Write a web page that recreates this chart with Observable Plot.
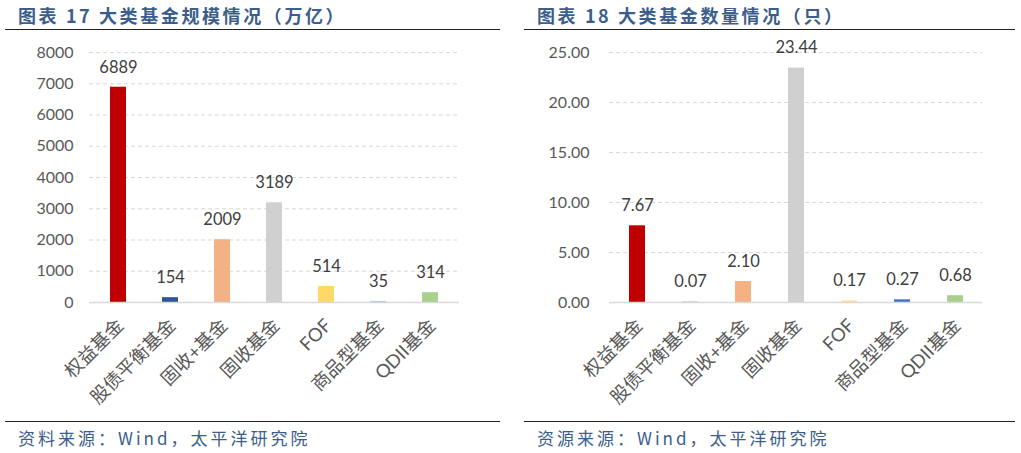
<!DOCTYPE html>
<html><head><meta charset="utf-8">
<script src="https://cdn.jsdelivr.net/npm/d3@7"></script>
<script src="https://cdn.jsdelivr.net/npm/@observablehq/plot@0.6"></script>
<style>
body{margin:0;background:#fff;width:1021px;height:453px;position:relative;overflow:hidden;font-family:"Lato","Noto Sans CJK SC",sans-serif;}
.title{position:absolute;top:2px;font-family:"Noto Sans CJK SC";font-weight:700;font-size:18px;color:#3B5E8C;letter-spacing:2.6px;white-space:pre;}
.src{position:absolute;top:425px;font-family:"Noto Sans CJK SC";font-size:17px;color:#3B5E8C;letter-spacing:3px;white-space:nowrap;}
.hl{position:absolute;height:0;border-top:1.5px solid #222;}
.chart{position:absolute;top:35px;}
</style></head><body>
<div class="title" style="left:18px">图表 17 大类基金规模情况（万亿）</div>
<div class="title" style="left:537px">图表 18 大类基金数量情况（只）</div>
<div class="hl" style="left:5px;width:495px;top:29px"></div>
<div class="hl" style="left:524px;width:491px;top:29px"></div>
<div class="hl" style="left:5px;width:495px;top:421px"></div>
<div class="hl" style="left:524px;width:491px;top:421px"></div>
<div class="src" style="left:18px">资料来源：Wind，太平洋研究院</div>
<div class="src" style="left:537px">资源来源：Wind，太平洋研究院</div>
<div id="c1" class="chart" style="left:0px"></div>
<div id="c2" class="chart" style="left:510px"></div>
<script>
const categories = ["权益基金","股债平衡基金","固收+基金","固收基金","FOF","商品型基金","QDII基金"];
const scaleValues = [6889,154,2009,3189,514,35,314];
const countValues = [7.67,0.07,2.10,23.44,0.17,0.27,0.68];
const scaleColors = ["#C00000","#2F5597","#F4B183","#D0D0D0","#FFD966","#B4C7E7","#A9D18E"];
const countColors = ["#C00000","#B4C7E7","#F4B183","#D0D0D0","#FFE699","#4472C4","#A9D18E"];
const scaleTicks = [0,1000,2000,3000,4000,5000,6000,7000,8000];
const countTicks = [0,5,10,15,20,25];

function makeChart(values, colors, ticks, fmt, opts){
  const data = categories.map((c,i)=>({cat:c, v:values[i], color:colors[i]}));
  return Plot.plot({
    width: opts.width, height: 380,
    marginTop: 17, marginBottom: 113, marginLeft: opts.ml, marginRight: opts.mr,
    style: {fontFamily:'"Lato","Noto Sans CJK SC",sans-serif', background:"transparent"},
    x: {domain: categories, paddingInner: 0.7, paddingOuter: 0.35, label: null},
    y: {domain: [0, ticks[ticks.length-1]], label: null},
    marks: [
      Plot.gridY(ticks.slice(1), {stroke:"#D9D9D9", strokeOpacity:1, strokeDasharray:"4,3"}),
      Plot.barY(data, {x:"cat", y:"v", fill:"color"}),
      Plot.ruleY([0], {stroke:"#D9D9D9", strokeWidth:1.5}),
      Plot.text(data, {x:"cat", y:"v", text:d=>fmt(d.v), dy:-20, fontSize:16.5, fill:"#404040"}),
      Plot.axisY({ticks: ticks, tickSize:0, tickPadding: opts.tp, tickFormat: fmt, fontSize:16, color:"#595959", label:null}),
      Plot.axisX({tickSize:0, tickPadding:20, tickRotate:-45, fontSize:18.5, color:"#595959", label:null, dx:2})
    ]
  });
}
document.getElementById("c1").appendChild(makeChart(scaleValues, scaleColors, scaleTicks, d=>d3.format("d")(d), {width:510, ml:89, mr:51, tp:16}));
document.getElementById("c2").appendChild(makeChart(countValues, countColors, countTicks, d=>d.toFixed(2), {width:511, ml:99, mr:39, tp:20}));
</script>
</body></html>
